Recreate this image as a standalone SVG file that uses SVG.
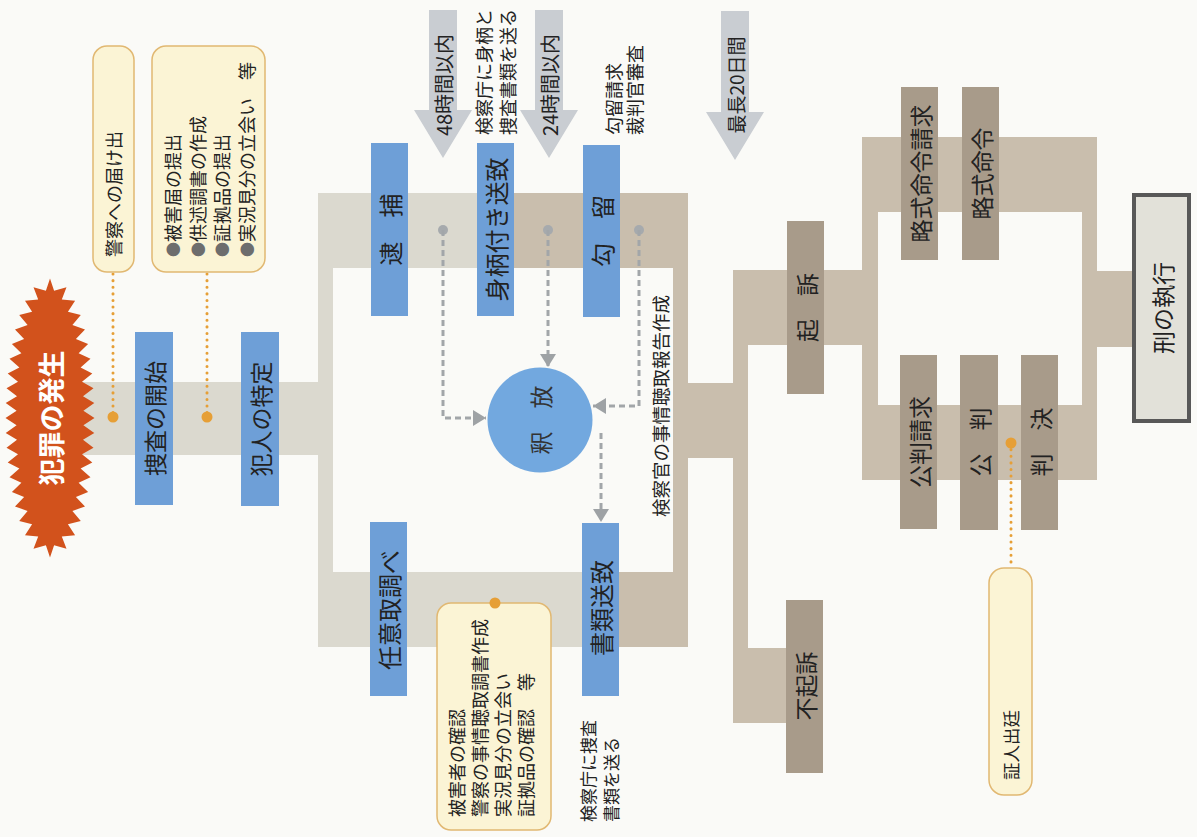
<svg xmlns="http://www.w3.org/2000/svg" width="1197" height="837" viewBox="0 0 1197 837">
<style>
.blue{fill:#6e9fd7}
.brown{fill:#a89b8a}
.tan{fill:#c9bead}
.lgray{fill:#dbd9cf}
.note{fill:#fbf4d5;stroke:#e1b872;stroke-width:1.5}
.garrow{fill:#c9cdd2}
.t{font-family:"Noto Sans CJK JP","Noto Sans CJK SC",sans-serif;fill:#222}
.bx{font-size:23px}
.sm{font-size:18px}
.dot{fill:#e69f36}
.dotline{fill:none;stroke:#e69f36;stroke-width:3;stroke-dasharray:0.1 6.5;stroke-linecap:round}
.dash{fill:none;stroke:#a2a6a9;stroke-width:3;stroke-dasharray:6 4}
.gdot{fill:#a6aaad}
.bul{fill:#6d6d6d}
</style>
<defs>
<marker id="ah" markerUnits="userSpaceOnUse" markerWidth="14" markerHeight="16" refX="13" refY="8" orient="auto">
<path d="M0,0 L13,8 L0,16 Z" fill="#9ea2a5"/>
</marker>
</defs>
<rect width="1197" height="837" fill="#fafaf7"/>

<g id="connectors">
<g id="bands">
<rect class="lgray" x="60" y="382" width="258" height="73"/>
<rect class="lgray" x="318" y="193" width="15" height="454"/>
<rect class="lgray" x="318" y="193" width="177" height="75"/>
<rect class="tan" x="495" y="193" width="193" height="75"/>
<rect class="lgray" x="318" y="572" width="282" height="75"/>
<rect class="tan" x="600" y="572" width="88" height="75"/>
<rect class="tan" x="673" y="193" width="15" height="454"/>
<rect class="tan" x="688" y="383" width="47" height="75"/>
<rect class="tan" x="733" y="270" width="15" height="453"/>
<rect class="tan" x="733" y="270" width="130" height="75"/>
<rect class="tan" x="733" y="648" width="54" height="75"/>
<rect class="tan" x="862" y="137" width="16" height="343"/>
<rect class="tan" x="862" y="137" width="235" height="75"/>
<rect class="tan" x="862" y="405" width="235" height="75"/>
<rect class="tan" x="1082" y="137" width="15" height="343"/>
<rect class="tan" x="1097" y="271" width="36" height="76"/>
</g>
<g id="dotted">
<path class="dotline" d="M113,274 V417"/>
<circle class="dot" cx="113" cy="417" r="5.5"/>
<path class="dotline" d="M207,274 V417"/>
<circle class="dot" cx="207" cy="417" r="5.5"/>
<path class="dotline" d="M1011,443 V567"/>
<circle class="dot" cx="1011" cy="443" r="5.5"/>
</g>
<g id="dashed">
<circle class="gdot" cx="443" cy="230" r="5"/>
<path class="dash" d="M443,230 V418 H486" marker-end="url(#ah)"/>
<circle class="gdot" cx="548" cy="230" r="5"/>
<path class="dash" d="M548,230 V367" marker-end="url(#ah)"/>
<circle class="gdot" cx="639" cy="230" r="5"/>
<path class="dash" d="M639,230 V406 H593" marker-end="url(#ah)"/>
<path class="dash" d="M601,433 V522" marker-end="url(#ah)"/>
</g>
</g>

<g id="crime">
<polygon fill="#d2521c" points="94.5,418 83.4,425.3 94.3,432.9 83.0,439.7 93.5,447.7 82.0,454.2 92.3,462.4 80.6,468.6 90.5,477.3 78.6,482.8 88.1,492.1 75.9,497.0 85.0,506.5 72.4,510.9 80.8,521.0 67.9,524.3 75.1,535.2 61.8,536.5 66.5,548.7 54.1,545.2 50,557.5 45.9,545.2 33.5,548.7 38.2,536.5 25.0,535.2 32.1,524.3 19.2,521.0 27.6,510.9 15.0,506.5 24.1,497.0 11.9,492.1 21.4,482.8 9.5,477.3 19.4,468.6 7.7,462.4 18.0,454.2 6.5,447.7 17.0,439.7 5.7,432.9 16.6,425.3 5.5,418 16.6,410.7 5.7,403.1 17.0,396.3 6.5,388.3 18.0,381.8 7.7,373.6 19.4,367.4 9.5,358.7 21.4,353.2 11.9,343.9 24.1,339.0 15.0,329.5 27.6,325.1 19.2,315.0 32.1,311.7 25.0,300.8 38.2,299.5 33.5,287.3 45.9,290.8 50,278.5 54.1,290.8 66.5,287.3 61.8,299.5 75.1,300.8 67.9,311.7 80.8,315.0 72.4,325.1 85.0,329.5 75.9,339.0 88.1,343.9 78.6,353.2 90.5,358.7 80.6,367.4 92.3,373.6 82.0,381.8 93.5,388.3 83.0,396.3 94.3,403.1 83.4,410.7"/>
<text class="t" style="fill:#fff;font-size:27px;font-weight:bold" transform="translate(50,418) rotate(-90)" text-anchor="middle" dominant-baseline="central">犯罪の発生</text>
</g>

<g id="note-report">
<rect class="note" x="93" y="46" width="41" height="226" rx="14"/>
<text class="t sm" transform="translate(113,257) rotate(-90)" dominant-baseline="central">警察への届け出</text>
</g>

<g id="note-victim">
<rect class="note" x="152" y="46" width="113" height="226" rx="14"/>
<text class="t sm" transform="translate(172,257) rotate(-90)" dominant-baseline="central">
<tspan x="0" y="0"><tspan class="bul" style="font-size:15px">●</tspan>被害届の提出</tspan>
<tspan x="0" y="24.5"><tspan class="bul" style="font-size:15px">●</tspan>供述調書の作成</tspan>
<tspan x="0" y="49"><tspan class="bul" style="font-size:15px">●</tspan>証拠品の提出</tspan>
<tspan x="0" y="73.5"><tspan class="bul" style="font-size:15px">●</tspan>実況見分の立会い　等</tspan>
</text>
</g>

<g id="start-investigation">
<rect class="blue" x="135" y="332" width="38" height="173"/>
<text class="t bx" transform="translate(154,418.5) rotate(-90)" text-anchor="middle" dominant-baseline="central">捜査の開始</text>
</g>
<g id="identify">
<rect class="blue" x="241" y="332" width="38" height="174"/>
<text class="t bx" transform="translate(260,419) rotate(-90)" text-anchor="middle" dominant-baseline="central">犯人の特定</text>
</g>

<g id="arrow-48">
<path class="garrow" d="M429,10 H457 V110 H472 L443,158 L414,110 H429 Z"/>
<text class="t" style="font-size:20px" transform="translate(443,85) rotate(-90)" text-anchor="middle" dominant-baseline="central">48時間以内</text>
</g>
<g id="arrow-24">
<path class="garrow" d="M535,10 H563 V110 H578 L549,158 L520,110 H535 Z"/>
<text class="t" style="font-size:20px" transform="translate(549,85) rotate(-90)" text-anchor="middle" dominant-baseline="central">24時間以内</text>
</g>
<g id="arrow-20days">
<path class="garrow" d="M721,11 H749 V112 H764 L735,160 L706,112 H721 Z"/>
<text class="t" style="font-size:19px" transform="translate(735,85) rotate(-90)" text-anchor="middle" dominant-baseline="central">最長20日間</text>
</g>

<g id="label-send">
<text class="t sm" transform="translate(483,135) rotate(-90)" dominant-baseline="central">
<tspan x="0" y="0">検察庁に身柄と</tspan>
<tspan x="0" y="24">捜査書類を送る</tspan>
</text>
</g>
<g id="label-detention">
<text class="t sm" transform="translate(613,135) rotate(-90)" dominant-baseline="central">
<tspan x="0" y="0">勾留請求</tspan>
<tspan x="0" y="21">裁判官審査</tspan>
</text>
</g>
<g id="label-prosecutor">
<text class="t" style="font-size:18.5px" transform="translate(660,517) rotate(-90)" dominant-baseline="central">検察官の事情聴取報告作成</text>
</g>
<g id="label-docs">
<text class="t" style="font-size:17px" transform="translate(587,822) rotate(-90)" dominant-baseline="central">
<tspan x="0" y="0">検察庁に捜査</tspan>
<tspan x="0" y="23">書類を送る</tspan>
</text>
</g>

<g id="arrest">
<rect class="blue" x="371" y="143" width="37" height="173"/>
<text class="t" style="font-size:24px" transform="translate(389.5,229.5) rotate(-90)" text-anchor="middle" dominant-baseline="central">逮　捕</text>
</g>
<g id="custody-transfer">
<rect class="blue" x="477" y="143" width="37" height="173"/>
<text class="t" style="font-size:24px" transform="translate(495.5,229.5) rotate(-90)" text-anchor="middle" dominant-baseline="central">身柄付き送致</text>
</g>
<g id="detention">
<rect class="blue" x="583" y="145" width="37" height="172"/>
<text class="t" style="font-size:24px" transform="translate(601.5,231) rotate(-90)" text-anchor="middle" dominant-baseline="central">勾　留</text>
</g>
<g id="release">
<circle cx="540" cy="420" r="52.5" fill="#72a8df"/>
<text class="t bx" style="fill:#333" transform="translate(540,420) rotate(-90)" text-anchor="middle" dominant-baseline="central">釈　放</text>
</g>
<g id="voluntary">
<rect class="blue" x="370" y="522" width="37" height="174"/>
<text class="t" style="font-size:24px" transform="translate(388.5,610) rotate(-90)" text-anchor="middle" dominant-baseline="central">任意取調べ</text>
</g>
<g id="docs-transfer">
<rect class="blue" x="582" y="523" width="37" height="173"/>
<text class="t" style="font-size:24px" transform="translate(600.5,608) rotate(-90)" text-anchor="middle" dominant-baseline="central">書類送致</text>
</g>

<g id="note-voluntary">
<rect class="note" x="437" y="603" width="114" height="227" rx="14"/>
<circle class="dot" cx="495" cy="603" r="5.5"/>
<text class="t sm" transform="translate(456,817) rotate(-90)" dominant-baseline="central">
<tspan x="0" y="0">被害者の確認</tspan>
<tspan x="0" y="23">警察の事情聴取調書作成</tspan>
<tspan x="0" y="46">実況見分の立会い</tspan>
<tspan x="0" y="69">証拠品の確認　等</tspan>
</text>
</g>

<g id="indictment">
<rect class="brown" x="787" y="221" width="37" height="173"/>
<text class="t bx" transform="translate(805.5,307.5) rotate(-90)" text-anchor="middle" dominant-baseline="central">起　訴</text>
</g>
<g id="non-indictment">
<rect class="brown" x="786" y="600" width="37" height="173"/>
<text class="t bx" transform="translate(804.5,686) rotate(-90)" text-anchor="middle" dominant-baseline="central">不起訴</text>
</g>
<g id="summary-request">
<rect class="brown" x="901" y="87" width="37" height="173"/>
<text class="t bx" transform="translate(919.5,173.5) rotate(-90)" text-anchor="middle" dominant-baseline="central">略式命令請求</text>
</g>
<g id="summary-order">
<rect class="brown" x="962" y="87" width="37" height="173"/>
<text class="t bx" transform="translate(980.5,173.5) rotate(-90)" text-anchor="middle" dominant-baseline="central">略式命令</text>
</g>
<g id="trial-request">
<rect class="brown" x="900" y="355" width="37" height="174"/>
<text class="t bx" transform="translate(918.5,442) rotate(-90)" text-anchor="middle" dominant-baseline="central">公判請求</text>
</g>
<g id="trial">
<rect class="brown" x="960" y="355" width="38" height="175"/>
<text class="t bx" transform="translate(979,442) rotate(-90)" text-anchor="middle" dominant-baseline="central">公　判</text>
</g>
<g id="judgment">
<rect class="brown" x="1021" y="355" width="37" height="175"/>
<text class="t bx" transform="translate(1039.5,442) rotate(-90)" text-anchor="middle" dominant-baseline="central">判　決</text>
</g>
<g id="witness">
<rect class="note" x="989" y="568" width="43" height="227" rx="15"/>
<text class="t" style="font-size:17.5px" transform="translate(1010.5,780) rotate(-90)" dominant-baseline="central">証人出廷</text>
</g>
<g id="execution">
<rect x="1134" y="195" width="55" height="226" fill="#e2e1d9" stroke="#585858" stroke-width="4"/>
<text class="t bx" transform="translate(1161.5,308) rotate(-90)" text-anchor="middle" dominant-baseline="central">刑の執行</text>
</g>
</svg>
